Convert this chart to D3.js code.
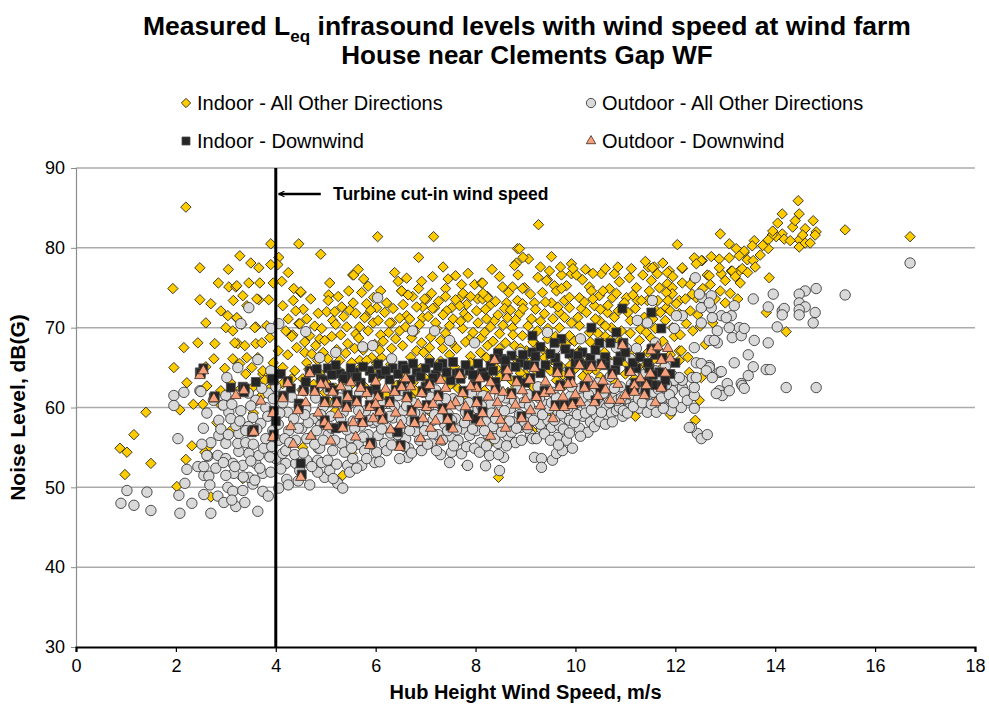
<!DOCTYPE html>
<html>
<head>
<meta charset="utf-8">
<script src="https://cdn.jsdelivr.net/npm/d3@7/dist/d3.min.js"></script>
<style>
  body { margin: 0; background: #fff; }
  svg text { font-family: "Liberation Sans", Arial, sans-serif; fill: #000; }
</style>
</head>
<body>
<svg id="chart" width="989" height="715"></svg>
<script>
// [wind speed m/s, level dB(G)]
var indoorOther = [
  [0.88,54.9],[1.02,54.4],[0.98,51.6],[1.16,56.6],[1.4,59.4],[1.5,53],[1.94,74.9],[2.2,85.1],[2.16,67.5],[1.96,65],
  [2.22,63.1],[2.08,59.7],[2.54,60.4],[2.82,58.1],[2.32,55.2],[2.66,55.1],[2.2,53.5],[2.58,54.4],[3.34,51.1],[2.76,66.1],
  [2.44,68.1],[2.78,68],[2.62,62.7],[2.98,64.9],[3.4,64.2],[3.74,64.2],[3.24,68],[3.6,68],[2.02,50.1],[2.48,77.5],
  [2.48,73.5],[2.7,73],[3.28,79],[3.66,77.5],[3.9,80.5],[3.46,75.6],[3.68,75.6],[3.06,75.1],[3.2,75.1],[3.34,74],
  [3.66,73.5],[3.86,73.5],[4.06,78.8],[4.04,77.9],[3.9,77.9],[3.04,71.5],[3.22,71.2],[3,70],[3.32,70.4],[3.6,70.1],
  [4.14,72.75],[4.36,74.9],[4.5,74.4],[4.46,70.5],[4.34,69.1],[4.46,80.5],[3.22,75.25],[3.42,72.75],[3.62,73.6],[3.22,71.25],
  [3.58,70],[3.82,70.25],[3.18,68.1],[3.38,67.75],[3.72,68.1],[3.88,68.75],[3.14,66.1],[3.42,66.25],[3.64,66.25],[3.28,65.5],
  [3.52,65],[3.74,64.6],[3.78,63.4],[3.88,62.4],[3.14,69.6],[2.7,48.8],
  [6.04,81.4],[7.16,81.4],[4.9,79.2],[6.86,78.8],[8.84,79.9],[8.82,78.1],[4.5,74.5],[5.54,76.6],[5.76,76.1],[5.08,75.6],
  [5.06,74.1],[7.14,76.4],[6.52,74.6],[6.74,73.9],[6.86,74.9],[7.02,73.6],[7.4,74.9],[7.4,73.9],[7.72,75.4],[7.98,75.4],
  [8.12,75.6],[8.54,75.1],[8.74,75.1],[7.7,73.8],[5.96,73.8],[5.82,73],[5.02,72],[5.18,72],[5.32,72.6],[5.14,70.9],
  [5.42,70.1],[5.68,70.1],[5.8,71.4],[6.02,72.5],[6.18,71.9],[6.32,70.6],[6.62,71.5],[6.94,71.25],[7.18,72.5],[7.52,72.5],
  [7.82,72.9],[8.04,73.6],[8.24,73.9],[8.62,73.1],[8.84,73.4],[4.68,69],[4.88,68.6],[5.78,71.25],[6.68,71.1],[7.14,72.4],
  [6.94,72.6],[7.42,72.1],[7.68,72.75],[7.78,71.75],[8.02,72.1],[8.14,73.6],[6.28,70.6],[6.48,69.6],[6.72,68.75],[6.92,68.1],
  [7.22,69.9],[7.48,70.25],[7.74,69.9],[7.88,68.6],[8.12,68.75],[7.52,68.1],[7.34,67.4],[7.08,67.5],[6.82,67.1],[6.54,67.75],
  [6.32,67.4],[6.12,66.25],[5.92,66.25],[5.68,65.9],[5.44,68],[5.22,67.25],[4.98,68.4],[4.8,67.75],[4.48,70.5],[4.32,68.9],
  [4.42,67.5],[4.58,66.9],[4.24,66.6],[4.14,65],[4.38,64.6],[4.62,65.6],[4.84,65.9],[5.04,66.1],[5.28,65.9],[5.52,65.6],
  [5.82,65.9],[6.02,65.5],[5.68,64.9],[4.54,63.6],[4.32,63.6],[4.14,63],[5.56,76.6],[6.52,74.6],[5.6,69.2],[6.1,69.1],
  [9.26,82.9],[12.04,80.4],[12.9,81.75],[13.08,80.5],[13.22,79.9],[13.38,79.4],[9.06,78.6],[9.52,78.9],[9.92,78],[8.88,79.9],
  [12.38,78.75],[12.54,78.4],[12.72,78.9],[12.88,78.6],[13.08,78.75],[13.28,77.1],[13.12,77.1],[12.92,76.75],[12.64,76.6],[12.52,78.4],
  [12.14,77.4],[11.88,77.1],[11.58,77.6],[11.46,77.6],[11.64,76.75],[11.84,75.5],[11.94,75],[12.14,75.6],[12.38,76.1],[10.78,76.75],
  [11.12,77.4],[10.52,76.75],[9.92,76.75],[9.72,76.6],[8.98,75],[9.44,76],[9.58,75.25],[9.82,75.25],[10.14,76],[10.28,75.1],
  [10.68,74.9],[10.88,75.75],[11.08,76.25],[11.22,75],[11.52,75.9],[11.68,75],[11.94,74.25],[12.08,73.4],[12.42,73.75],[11.54,77.5],
  [11.84,76.9],[12.14,77.5],[12.42,78],[12.68,76.5],[12.88,77.5],[13.14,77.1],[10.02,76.6],[9.42,75.9],[8.94,74.9],[9.34,74.4],
  [9.62,74.6],[10.32,74.6],[11.82,74.4],[12.34,74.2],[11.44,73.4],[11.24,73.4],[11.02,73.75],[10.74,73.75],[10.48,74],[10.08,73.75],
  [9.78,73.4],[9.52,73.1],[9.18,73.1],[8.94,73],[8.58,72.4],[8.28,72.75],[8.24,73.75],[8.14,75.6],[12.02,73],[11.82,72.5],
  [11.62,72.1],[12.08,71.75],[11.94,70],[12.22,70.5],[12.08,67.1],[11.64,67.4],[10.64,71.9],[10.38,72.75],[10.12,72.4],[9.88,72.5],
  [9.68,71.9],[9.38,71.75],[9.12,71.1],[8.88,71.75],[8.64,71.25],[8.38,70.9],[8.22,71.1],[8.18,69.4],[8.48,69.25],[8.74,70],
  [8.94,69],[9.24,69.6],[9.44,68.6],[9.68,70],[9.88,69],[10.08,70.25],[10.28,69.4],[10.48,70.9],[10.72,70],[10.88,68.4],
  [10.42,67.75],[10.08,67.1],[9.74,67.75],[9.52,66.9],[9.24,67.75],[9.02,67.1],[8.78,67.75],[8.48,67.4],[8.24,67.75],[8.22,66.25],
  [8.84,65.9],[9.38,66.25],[9.94,66.25],[10.28,65.9],[10.62,66.25],[11.02,65.5],[11.22,66.1],[12.08,65.9],[12.28,64.4],[12.52,63.75],
  [11.3,69.8],[11.1,70.9],[11.5,68.8],[10.6,68.9],[12.5,70.2],[12.3,72.1],
  [14.46,85.9],[14.14,84.25],[14.48,84.25],[14.76,83.4],[14.6,82.4],[14.82,82],[14.8,81.6],[15.4,82.25],[16.7,81.4],[14.14,81.75],
  [14.18,81.1],[14.02,81.4],[13.94,81.6],[13.86,81],[13.86,79.9],[13.58,80.9],[13.54,80.25],[14.48,81],[14.48,80.1],[14.6,80.6],
  [13.38,79.6],[13.28,79],[13.44,78.5],[13.56,78.4],[13.34,77.4],[13.88,76.25],[13.82,71.9],[14.22,69.5],
  [9.12,57.1],[8.28,55.5],[8.56,53.75],[8.46,51.25],[7.82,52.75],[5.34,51.5],[5.52,54.25],[4.54,55],[9.14,57.1],[12.12,67.1],
  [12.48,60.9],[4.6,63.4],[5,63.2],[5.5,62.8],[6,63.5],[6.5,63],[7,63.6],[7.5,62.9],[8,63.4],[8.5,63.9],
  [9,64.2],[9.5,64.6],[10,64.9],[10.5,63.8],[11,64.2],[4.8,61.2],[5.8,61.8],[6.8,62.1],[7.8,61.6],[8.8,62.6],
  [9.8,62.9],[10.8,63.1],[11.5,63.6],[5.2,59.6],[6.3,58.9],[7.1,59.4],[8.6,58.4],[9.4,59.1],[10.5,61.3],[11.2,58.9],
  [11.9,59.1],[12.4,58.4],[6.6,65.1],[7.3,65.8],[7.9,66.4],[8.6,65.6],[9.7,65.2],[10.4,64.7],[11.4,65.3],[5.3,64.4],
  [4.55,72.3],[4.62,71.1],[4.7,73.6],[4.78,70.2],[4.85,71.8],[4.92,69.9],[4.58,68.2],[4.72,66.7],[4.95,66.9],[4.66,64.8],
  [4.88,64.3],[4.52,62.2],[4.76,62.9],[4.98,61.9],[4.6,60.4],
  [5.05,73.4],[5.12,68.9],[5.2,70.4],[5.25,73.9],[5.3,69.1],[5.36,71.4],[5.4,66.8],[5.46,74.6],[5.48,72.2],[5.1,64.6],
  [5.35,63.4],[5.2,62.4],[5.45,61.4],[5.08,60.7],
  [5.55,73.1],[5.6,71.8],[5.66,68.7],[5.72,74.4],[5.75,67.2],[5.85,69.6],[5.9,72.2],[5.95,70.6],[5.98,67.9],[5.62,63.6],
  [5.78,62.6],[5.92,64.6],[5.58,67.4],[5.85,75.2],[5.65,77.3],
  [6.05,70.9],[6.1,74.6],[6.15,68.3],[6.22,73.1],[6.26,69.4],[6.35,72.4],[6.4,68.6],[6.45,75.8],[6.48,71.2],[6.12,64.2],
  [6.3,65.4],[6.42,62.8],[6.2,61.6],[6.38,76.9],[6.08,67.2],
  [6.55,72.9],[6.6,70.1],[6.65,74.1],[6.7,66.3],[6.78,69.5],[6.82,72.6],[6.88,70.4],[6.96,66.9],[6.98,73.6],[6.58,64.4],
  [6.75,63.1],[6.9,64.9],[6.62,76.2],[6.92,75.8],[6.7,61.3],
  [7.05,71.4],[7.1,68.8],[7.12,74.3],[7.2,70.6],[7.26,73.3],[7.3,68.4],[7.35,71.6],[7.4,69.3],[7.45,76.1],[7.48,66.6],
  [7.08,66.1],[7.22,64.5],[7.4,63.9],[7.15,62.3],[7.35,77.6],
  [7.55,71.1],[7.6,73.5],[7.62,67.4],[7.7,70.8],[7.75,74.3],[7.8,68.2],[7.85,71.3],[7.9,73.9],[7.95,69.4],[7.58,65.1],
  [7.72,63.8],[7.9,65.6],[7.65,62.4],[7.85,76.8],[7.6,76.5],
  [8.05,70.6],[8.1,66.9],[8.15,74.3],[8.2,72.3],[8.3,70.1],[8.35,68.3],[8.4,73.3],[8.45,71.6],[8.5,66.2],[8.08,64.4],
  [8.28,63.6],[8.42,64.9],[8.18,62.1],[8.33,77.3],[8.48,76.4],
  [8.55,70.3],[8.6,68.1],[8.66,74.4],[8.7,72.2],[8.75,69.1],[8.8,71],[8.85,76.6],[8.9,67.4],[8.95,72.4],[8.58,64.6],
  [8.72,63.4],[8.9,64.3],[8.65,61.9],[8.78,77.8],[8.95,78.8],
  [9.05,70.2],[9.1,74.2],[9.15,68.2],[9.2,72.3],[9.25,76.3],[9.3,70.8],[9.35,67.3],[9.4,73.2],[9.45,69.9],[9.08,65.6],
  [9.22,64.6],[9.42,65.4],[9.15,62.6],[9.3,77.6],[9.48,77.1],
  [9.55,71.1],[9.6,68.9],[9.65,72.6],[9.72,74.9],[9.78,71.3],[9.82,67.9],[9.88,73.8],[9.92,70.6],[9.98,68.3],[9.58,65.8],
  [9.75,64.1],[9.9,65.3],[9.62,63.4],[9.7,77.6],[9.95,77.4],
  [10.05,71.3],[10.1,68.6],[10.18,73.2],[10.22,71.9],[10.3,68.2],[10.35,73.6],[10.4,71.1],[10.45,69.3],[10.5,72.3],[10.08,66.3],
  [10.25,64.6],[10.42,66.6],[10.15,63.9],[10.35,76.8],[10.2,77.3],
  [10.55,74.6],[10.6,70.2],[10.65,72.8],[10.7,68.4],[10.78,71.3],[10.82,74.3],[10.86,72.1],[10.92,69.6],[10.98,73.1],[10.58,66.9],
  [10.75,65.6],[10.95,66.4],[10.68,63.9],[10.85,77.6],[10.6,77.4],
  [11.05,71.9],[11.1,69.3],[11.15,74.1],[11.2,72.4],[11.28,68.4],[11.32,73.4],[11.38,71.3],[11.42,69.4],[11.48,74.6],[11.08,66.8],
  [11.25,65.1],[11.45,66.9],[11.18,63.6],[11.35,76.6],[11.4,78.3],
  [11.55,71.1],[11.6,69.9],[11.65,73.4],[11.7,71.9],[11.75,68.3],[11.8,70.9],[11.85,73.4],[11.9,72.1],[11.98,68.9],[11.58,66.1],
  [11.72,64.9],[11.9,66.6],[11.62,63.6],[11.75,78.1],[11.95,76.4],
  [12.1,69.1],[12.2,73.6],[12.3,75.4],[12.45,71.6],[12.55,74.9],[12.6,72.9],[12.7,75.4],[12.8,73.6],[12.9,74.6],[13,75.9],
  [13.1,74.3],[13.2,76.4],[13.3,75.6],[13.45,76.9],[13.6,77.6],[13.7,79.1],[13.75,80.3],[13.95,82.1],[14.05,83.1],[14.3,80.9],
  [14.35,82.6],[14.4,83.4],[14.55,81.6],[14.7,80.6],[12.35,69.6],[12.6,67.9],[12.25,66.3],[12.75,70.6],[13,73.1],[13.25,73.6],
  [3.1,63.1],[3.3,62.4],[3.55,62.6],[3.7,61.4],[3.95,65.6],[4.05,67.1],[4.2,69.6],[4.25,71.1],[4.4,72.1],[4.12,75.8],
  [4.25,76.9],[4.35,73.4],[3.15,73.4],[2.9,72.1],[2.85,75.6],[3.05,77.3],[3.5,78.1],[3.95,75.6],[2.6,70.6],[2.9,62.1],
  [2.6,65.1],[2.35,60.4],[2.9,60.3],[3.1,57.1],[3.55,59.3]
];

var outdoorOther = [
  [0.9,48],[1.02,49.6],[1.16,47.75],[1.42,49.4],[1.5,47.1],[1.96,61.5],[1.96,60.25],[2.16,61.9],[2.48,62.1],[2.04,56.1],
  [2.86,56.5],[2.64,53.9],[2.84,54],[2.44,52.6],[2.56,51.5],[2.22,52.25],[2.18,50.5],[2.06,49],[2.32,48],[2.08,46.75],
  [2.7,46.75],[2.56,49.1],[2.84,48.9],[2.96,48.1],[3.2,47.6],[3.64,47],[3.04,50],[3.14,49.5],[3.34,49.6],[3.54,50.4],
  [3.74,49.5],[4.06,49.9],[4.22,51],[3.46,51.25],[3.74,51.75],[3.16,51.75],[3,51.5],[2.66,51.4],[2.56,52.6],[2.62,54],
  [3,53.6],[3.14,53],[3.34,52.75],[3.6,53],[4,53.6],[4.2,53],[4.14,54.25],[3.66,54],[3.46,54.25],[3.26,54.5],
  [3,55.5],[3.24,55.5],[3.4,55.6],[3.26,56.75],[3.2,57.75],[3.06,59.4],[3.3,59.6],[2.86,58.4],[3.24,65],[3.02,63.75],
  [3,61.5],[2.5,62],[3.64,66],[3.9,64.6],[3.6,60.9],[3.8,60],[3.54,58.75],[3.7,58],[3.94,57.1],[3.76,54.9],
  [4.06,55.9],[4.2,54.6],[4.26,57.1],[4.4,55.9],[4.24,59.4],[4.36,58.6],[4.14,60.6],[4.4,53],[3.9,51.9],[3.46,72.5],
  [4.06,70.5],[3.9,69.9],[6.04,73.75],[5.74,67.6],[5.94,67.75],[6.74,69.6],[7.18,69.6],[7.48,68.4],[7.98,68.1],[6.32,66.1],
  [4.88,66.25],[3.1,58.6],[3.45,57.6],[3.5,60.2],[2.95,60.3],[3.85,61.8],[4,62.6],
  [4.52,57.4],[4.6,59.8],[4.7,56.2],[4.75,58.6],[4.8,61.2],[4.85,54.9],[4.9,57.8],[4.95,60.1],[4.62,56.1],[4.84,53.4],
  [4.62,53.4],[4.88,54.9],[4.98,51.25],[4.84,51.9],[5.08,52.1],[5.24,50.5],[5.34,49.9],[4.56,62.1],
  [5.05,56.6],[5.1,58.9],[5.14,54.6],[5.2,60.6],[5.25,57.5],[5.32,55.5],[5.35,59.4],[5.44,52.75],[5.48,51.9],[5.5,56.2],
  [5.55,58.3],[5.54,53.6],[5.6,60.9],[5.65,55.4],[5.72,52.75],[5.7,57.7],[5.78,54.6],[5.8,59.6],[5.85,56.6],[5.92,61.2],
  [5.95,58.1],[5.98,53.1],[5.42,62.3],[5.05,62.2],
  [6.02,54.4],[6.05,56.5],[6.1,59.2],[6.18,55.5],[6.2,57.6],[6.25,60.5],[6.3,56.8],[6.35,58.7],[6.42,55.5],[6.45,61.5],
  [6.5,57.4],[6.55,59.6],[6.64,53.75],[6.6,56.1],[6.7,58.3],[6.75,60.6],[6.8,57],[6.88,55.9],[6.9,59.1],[6.95,61.9],
  [6.66,54.9],
  [7.02,57.6],[7.05,59.9],[7.12,55.5],[7.15,58.4],[7.2,62.2],[7.25,56.6],[7.3,60.4],[7.38,57.9],[7.45,59.2],[7.52,54.4],
  [7.5,56.4],[7.55,61.1],[7.6,58.6],[7.65,55.9],[7.7,60.2],[7.75,57.3],[7.84,52.75],[7.8,59.4],[7.88,56.5],[7.92,61.8],
  [7.95,58.1],[7.3,54.1],
  [8.02,57.1],[8.05,59.8],[8.1,55.6],[8.15,61.5],[8.2,58.2],[8.28,54],[8.25,56.6],[8.3,60.4],[8.35,57.6],[8.42,62.3],
  [8.48,52.1],[8.45,55.5],[8.5,59.1],[8.56,53.75],[8.55,57.9],[8.6,61.2],[8.65,56.4],[8.7,59.9],[8.75,58.2],[8.8,55.6],
  [8.85,62.4],[8.9,57.5],[8.95,60.6],[8.2,52.7],
  [9.02,58.9],[9.05,61.6],[9.1,56.6],[9.14,56.1],[9.18,53.75],[9.32,53.6],[9.32,52.5],[9.32,57.4],[9.2,59.5],[9.25,62.6],
  [9.3,57.9],[9.4,60.4],[9.45,58.4],[9.52,57.5],[9.54,53.4],[9.55,61.9],[9.62,54.25],[9.64,56.25],[9.68,57.75],[9.6,59.3],
  [9.7,62.8],[9.74,54.6],[9.78,60.8],[9.82,55.9],[9.88,58.4],[9.9,61.4],[9.94,54.9],[9.95,59.6],
  [10.02,60.6],[10.08,57.4],[10.1,62.4],[10.15,58.9],[10.22,60.2],[10.3,58.2],[10.35,61.8],[10.42,59],[10.45,63.1],[10.5,60.4],
  [10.58,58.6],[10.62,60],[10.65,62.3],[10.72,59.3],[10.75,61.2],[10.82,59.6],[10.88,60],[10.9,62.6],[10.95,58.9],[10.25,56.9],
  [11.02,61],[11.08,59.9],[11.12,62.9],[11.2,60.6],[11.28,59.9],[11.3,63.3],[11.38,61.5],[11.48,60],[11.5,62.6],[11.58,60.9],
  [11.68,59.9],[11.7,63.6],[11.78,61.2],[11.85,62.6],[11.92,60.9],[11.92,59.6],[11.94,62.1],[11.94,64],[11.98,63.4],[12.12,60],
  [12.14,62.5],[12.14,63.4],[9.44,69.4],
  [12.4,76.25],[12.54,73.75],[12.72,74],[12.72,72.5],[12.52,72.5],[12.92,71.5],[13.12,71.5],[13.18,72.75],[13.28,70],[13.08,70],
  [12.84,69.6],[12.52,70.6],[12.14,71.5],[11.54,73.4],[11.24,70.9],[12.48,74.2],[12.68,73.1],[12.74,71.25],[13.02,71.25],[12.68,68.4],
  [12.84,68.1],[12.42,65.6],[12.68,65.25],[13.04,63],[12.88,62.1],[12.94,61.5],[12.34,63.75],[12.08,63.75],[12.18,61.9],[12.24,60.9],
  [12.44,56.75],[12.32,57.5],[12.52,56.1],[12.64,56.6],[12.28,57.5],[12.38,59.9],[12.38,61.5],[12.38,62.5],[12.42,63.75],[12.52,65.5],
  [12.82,61.75],[12.88,64.4],[12.68,65],[12.78,68.4],[13.14,68.75],[13.32,69],[13.18,65.6],[13.32,63],[13.08,62.1],[12.62,64.6],
  [12.92,64.5],[12.74,63.75],[12.38,67.5],[12.02,71.5],[11.98,69.9],[11.44,70.6],[11.22,67.4],[11.02,67.4],[10.82,67.5],
  [16.7,78.1],[15.4,74.1],[14.82,74.9],[14.6,74.6],[14.48,74.2],[14.48,73.1],[14.6,72.6],[14.48,72.25],[14.48,71.6],[14.8,71.9],
  [14.76,70.6],[13.96,74.2],[13.56,73.6],[13.86,72.6],[14.14,72.1],[14.18,72.4],[14.14,71.6],[14.04,70.1],[13.38,69.9],[14.22,62.5],
  [14.82,62.5],[13.58,68.4],[13.86,68.1],[13.46,66.6],[13.56,65.1],[13.82,64.75],[13.9,64.75],[13.46,64],[13.34,62.75],[13.38,62.4],
  [2.55,57.4],[2.62,59.3],[2.7,55.6],[2.75,60.9],[2.8,52.4],[2.9,57.3],[2.95,53.1],[2.68,50.3],[2.52,55.4],
  [3.05,56.6],[3.12,60.4],[3.18,52.6],[3.28,58.3],[3.35,51.3],[3.4,57.1],[3.45,61.8],[3.12,48.4],[3.38,48.1],[3.5,53.3],
  [3.55,55.4],[3.62,57.3],[3.68,52.4],[3.72,62.4],[3.8,56.1],[3.84,58.9],[3.88,53.8],[3.95,61.1],[3.58,50.9],[3.85,48.9],
  [3.92,55.1],[4.05,57.9],[4.1,52.3],[4.18,56.1],[4.28,55.6],[4.32,61.3],[4.38,54.1],[4.45,57.4],[4.48,52.1],[4.25,50.3],
  [4.45,50.8],[4.08,59.3],
  [4.55,54.3],[4.65,58.1],[4.72,52.6],[4.78,55.4],[4.9,59.1],[4.95,55.9],[4.58,59.1],[4.68,50.3],[4.92,53.1],[4.82,57.1],
  [5.04,53.4],[5.12,57.4],[5.18,55.9],[5.22,52.9],[5.3,58.6],[5.38,54.4],[5.42,57.2],[5.28,61.2],[5.15,51.1],[5.46,60.4],
  [5.52,54.9],[5.58,57.4],[5.62,52.4],[5.66,59.6],[5.75,56.3],[5.82,53.6],[5.88,58.4],[5.92,55.4],[5.96,60.3],[5.68,61.8],
  [6.04,58.3],[6.08,53.2],[6.14,60.4],[6.22,54.6],[6.28,58.9],[6.32,55.3],[6.38,60.2],[6.44,56.6],[6.48,53.6],[6.12,57.3],
  [6.52,58.4],[6.58,55.1],[6.62,60.2],[6.68,57.1],[6.72,54.3],[6.78,59.3],[6.85,58.1],[6.92,54.6],[6.98,57.1],[6.55,62.1],
  [7.04,55.4],[7.1,61.3],[7.14,56.7],[7.18,59.1],[7.22,54.6],[7.28,58.6],[7.34,55.9],[7.4,61.1],[7.44,57.1],[7.48,53.1],
  [7.52,58.4],[7.56,55.2],[7.62,57.2],[7.66,60.9],[7.72,54.2],[7.78,58.1],[7.82,55.1],[7.86,60.6],[7.94,57.3],[7.98,54.9],
  [8.04,58.6],[8.08,54.4],[8.12,60.2],[8.18,57.1],[8.22,55.2],[8.32,59.3],[8.38,56.1],[8.4,58.6],[8.46,54.1],[8.48,61.3],
  [8.52,56.9],[8.58,59.6],[8.62,55.2],[8.68,58.3],[8.72,56.9],[8.78,60.8],[8.82,57.4],[8.88,59.1],[8.92,55.9],[8.98,58.2],
  [9.04,57.4],[9.08,60.2],[9.16,58.4],[9.22,56.1],[9.28,61.2],[9.34,59.1],[9.38,56.7],[9.42,62.1],[9.48,59.9],[9.5,55.9],
  [9.52,60.6],[9.58,58.4],[9.62,61.2],[9.66,55.3],[9.72,59.2],[9.76,57.3],[9.84,59.9],[9.88,56.8],[9.92,62.6],[9.98,58.1],
  [10.04,59.1],[10.1,56.4],[10.14,61.2],[10.2,59.3],[10.26,61.6],[10.32,59.7],[10.38,57.6],[10.44,61.1],[10.48,58.3],[10.28,63.3],
  [10.52,59.4],[10.56,61.8],[10.6,57.9],[10.68,60.6],[10.74,58.2],[10.78,62.4],[10.84,60.9],[10.92,61.2],[10.96,59.6],[10.7,63.9],
  [11.04,59.3],[11.1,61.6],[11.16,60.1],[11.22,62.3],[11.26,61.1],[11.34,60.6],[11.4,62.9],[11.44,59.4],[11.46,61.6],[11.36,64.1],
  [11.52,60.4],[11.56,61.9],[11.62,59.4],[11.66,62.3],[11.72,61.2],[11.76,59.9],[11.82,62.9],[11.88,61.6],[11.96,60.6],[11.6,64.6],
  [10.4,66.3],[10.7,65.4],[11.1,66.1],[11.6,68.1],[11.8,65.1],[9.6,67.4],[10.1,68.6],[8.9,66.9],[5.2,66.9],[4.6,69.5],
  [3.3,70.5]
];

var indoorDownwind = [
  [2.48,64.4],[2.76,61.25],[3.36,61.9],[3.34,62.6],[3.54,57.1],[3.52,56.9],[3.96,63.4],[3.92,63.6],[4.16,61.5],[4.46,60.5],
  [4.5,53],[4.68,64.4],[5.04,64.9],[5.28,64.25],[5.58,64.4],[5.88,64.6],[6.34,64.9],[6.54,65.25],[6.82,64.4],[7.08,65.6],
  [7.34,65.5],[7.62,64.25],[7.88,64.6],[8.14,64.4],[5.08,62.5],[6.44,56.9],[4.98,58],[10.94,72.4],[11.52,71.9],[11.72,69.9],
  [10.32,70],[10.82,69.4],[9.14,69],[9.72,68.6],[9.58,68.1],[9.14,66.9],[10.14,66.9],[10.48,68.1],[9.88,66.75],[8.72,66.5],
  [8.52,66.1],[11.22,64.9],[11.48,64.9],[11.68,64.4],[11.08,64.6],
  [4.3,62.4],[4.9,63.6],[5.4,63.9],[5.7,63.1],[6.1,64.2],[6.7,63.5],[7.2,64.1],[7.5,63.4],[8,63.9],[8.3,65.2],
  [8.9,65.6],[9.4,65.3],[9.6,66.2],[10,65.6],[10.3,66.2],[10.6,65.3],[10.8,64.7],[11.9,64.2],[11.6,62.8],[11.4,63.2],
  [9.9,63.9],[9.3,64.3],[8.6,64.8],[3.1,62.5],[2.55,64.9],[3.6,63.2],[4.1,64.2],[6,62.3],[7,62.6],[8.4,63.2],
  [9,63.1],[10.5,62.4],[11.1,62.2],[11.6,66.6],[10.9,66.4],[12,65.6],[4,58.3],[5.2,57.4],[7.5,57.7],[8,58.6],
  [2.5,64.3],[2.78,61.4],[3.38,62.4],[3.56,57.2],[3.96,56.6],[4.24,63.3],[4.14,61.4],[4.46,59.9],[3.96,59.6],[4.52,51.6],
  [4.7,64.6],[4.56,62.2],[4.98,60.8],[5.16,62.2],[4.98,58.4],[5.44,61.6],[5.34,57.7],[5.84,62.1],[5.74,58.3],[6.06,61.6],
  [6.14,58.7],[6.4,62.2],[6.64,61.4],[6.78,58.3],[6.94,62.1],[7.26,61.6],[7.44,58.7],[7.76,62.1],[8.04,60.8],[7.86,59.1],
  [8.4,62.4],[8.72,61.8],[8.92,58.9],[9.38,62.1],[9.6,60.3],[9.96,60.6],[9.7,62.8],[10.2,62.7],[10.4,60.9],[11.2,63.1],
  [11.44,63.1],[11.74,62.7],[11.4,61.8],[8.84,63.4],[9.1,63.7],[5.9,55.6],[6.5,55.3],[11.54,67.4],[10.96,68.1],[11.74,66.2],
  [4.6,63.2],[4.82,64.8],[4.95,63.4],[5.12,64.1],[5.2,65.3],[5.35,63.6],[5.5,64.9],[5.62,63.8],[5.75,65.1],[5.95,63.7],
  [6.05,65.4],[6.2,64.6],[6.28,63.5],[6.45,64.2],[6.6,64.8],[6.75,65.5],[6.9,63.9],[7,64.9],[7.15,63.7],[7.25,65.1],
  [7.42,64.4],[7.55,65.7],[7.7,63.6],[7.8,65.3],[7.95,64.1],[8.05,65.5],[8.2,63.9],[8.35,64.6],[8.45,66.8],[8.6,65.9],
  [8.8,65.1],[8.95,66.6],[9.05,65.3],[9.2,66.4],[9.3,67.6],[9.5,66.7],[9.65,65.1],[9.8,67.3],[10.05,66.5],[10.2,65.3],
  [10.4,67.2],[10.6,66.3],[10.7,68.1],[10.85,65.8],[11,66.9],[11.15,65.6],[11.3,66.3],[11.45,65.6],[11.55,64.1],[11.8,63.4],
  [5.22,60.8],[5.62,60.9],[5.88,60.3],[6.28,60.8],[6.52,62.8],[6.72,59.7],[7.02,60.3],[7.08,63],[7.34,59.9],[7.68,64.3],
  [8.02,62.7],[8.14,59.5],[8.38,66.1],[8.62,64],[9.18,65.2],[9.22,61.5],[9.78,60.3],[9.64,64.5],[9.88,64.5],[10.08,65.5],
  [10.32,65.3],[10.52,65.5],[10.18,62.7],[10.74,64.3],[10.94,67.9],[11.52,67.3],[11.18,62.5],[4.78,62.2],[5.42,60.2],[6.08,59.7]
];

var outdoorDownwind = [
  [2.48,64],[2.76,61.1],[3.36,62.1],[3.56,56.9],[3.94,56.25],[4.24,63],[4.14,61.1],[4.44,59.6],[3.94,59.25],[4.5,51.25],
  [4.68,64.25],[4.54,61.9],[4.78,61.9],[4.98,60.5],[5.14,61.9],[5.22,60.5],[4.98,58.1],[5.44,61.25],[5.42,59.9],[5.34,57.4],
  [5.62,60.6],[5.68,59],[5.82,61.75],[5.88,60],[5.74,58],[6.04,61.25],[6.08,59.4],[6.14,58.4],[6.28,60.5],[6.38,61.9],
  [6.52,62.5],[6.62,61.1],[6.72,59.4],[6.78,58],[6.92,61.75],[7.02,60],[7.08,62.75],[7.24,61.25],[7.34,59.6],[7.44,58.4],
  [7.68,64],[7.74,61.75],[8.02,62.4],[8.02,60.5],[8.08,63.6],[8.14,59.25],[7.84,58.75],[8.38,65.9],[8.62,63.75],[8.38,62.1],
  [8.72,61.5],[8.44,60.6],[8.42,59.25],[8.92,58.6],[9.18,64.9],[9.38,61.75],[9.22,61.25],[9.58,60],[9.78,60],[9.94,60.25],
  [9.64,64.25],[9.88,64.25],[9.68,62.5],[10.08,65.25],[10.32,65],[10.52,65.25],[9.94,63],[10.18,62.4],[10.38,62.75],[10.38,60.6],
  [10.74,64],[10.94,67.75],[11.52,67.1],[11.72,65.9],[11.18,62.75],[11.42,62.75],[11.72,62.4],[11.38,61.5],[11.18,61.9],[8.82,63.1],
  [8.94,62.1],[9.08,63.4],[8.64,64.6],[5.88,55.25],[6.48,55],[5,62.8],[5.5,63.1],[6,63.2],[6.6,63.6],[7.3,63.4],
  [4.3,57.6],[4.7,56.4],[6.3,57.2],[7.1,57.4],[7.6,60.6],[8.6,57.4],[9.1,59.6],[9.4,63.2],[10,61.6],[10.6,62.2],
  [10.9,60.9],[11.1,64.4],[11.9,66.1],[11.6,60.6],[3.2,61.5],[3.7,60.8],[5.1,55.8],[2.55,64.6],
  [4.6,60.6],[4.85,59.3],[4.9,62.9],[5.05,57.6],[5.25,59.1],[5.3,62.6],[5.55,58.1],[5.7,62.4],[5.95,58.6],[6,60.4],
  [6.2,62.3],[6.4,59.3],[6.5,57.8],[6.7,62.6],[6.85,60.4],[6.95,58.6],[7.15,60.4],[7.2,58.3],[7.4,62.4],[7.5,60.2],
  [7.55,57.3],[7.8,60.1],[7.9,62.6],[8.1,58.1],[8.25,61.3],[8.3,63.1],[8.5,58.4],[8.55,61.9],[8.8,60.3],[9,61],
  [9.05,57.6],[9.3,60.2],[9.5,62.1],[9.55,58.6],[9.75,61.3],[9.85,62.9],[10.1,60.6],[10.25,63.6],[10.45,61.4],[10.55,63.3],
  [10.7,60.9],[10.85,62.9],[11,61.5],[11.3,63.6],[11.5,64.2],[11.8,64.3],[11.85,67.4],[11.65,67.6],[4.35,55.4],[5.6,56.3],
  [6.9,56.1],[7.3,55.8],[8.3,56.4]
];

var xTicks = [0, 2, 4, 6, 8, 10, 12, 14, 16, 18];
var yTicks = [30, 40, 50, 60, 70, 80, 90];
var cutInSpeed = 4;
var legendLabels = ["Indoor - All Other Directions", "Outdoor - All Other Directions",
                    "Indoor - Downwind", "Outdoor - Downwind"];

var svg = d3.select("#chart");
var plotLeft = 76, plotRight = 975, plotTop = 168, plotBottom = 647;

var x = d3.scaleLinear().domain([0, 18]).range([plotLeft, plotRight]);
var y = d3.scaleLinear().domain([30, 90]).range([plotBottom, plotTop]);

// marker styles, same order as the legend
var styles = [
  { sym: d3.symbolSquare, size: 54, rot: 45, fill: "#FFCC00", stroke: "#1a1a1a" },
  { sym: d3.symbolCircle, size: 85, rot: 0, fill: "#D9D9D9", stroke: "#262626" },
  { sym: d3.symbolSquare, size: 80, rot: 0, fill: "#262626", stroke: "#4a4a4a" },
  { sym: d3.symbolTriangle, size: 48, rot: 0, fill: "#F6A07C", stroke: "#3a2a22" }
];
var series = [indoorOther, outdoorOther, indoorDownwind, outdoorDownwind];

// title
var title = svg.append("text")
    .attr("x", 527).attr("y", 35)
    .attr("text-anchor", "middle")
    .style("font-size", "26.5px").style("font-weight", "bold");
title.append("tspan").text("Measured L");
title.append("tspan").attr("dy", 7).style("font-size", "17px").text("eq");
title.append("tspan").attr("dy", -7).text(" infrasound levels with wind speed at wind farm");
svg.append("text")
    .attr("x", 527).attr("y", 64)
    .attr("text-anchor", "middle")
    .style("font-size", "26px").style("font-weight", "bold")
    .text("House near Clements Gap WF");

// legend
var legendPos = [[186, 103], [591, 103], [186, 141], [591, 141]];
legendLabels.forEach(function(label, i) {
  var st = styles[i];
  svg.append("path")
      .attr("d", d3.symbol(st.sym, st.size * 0.8)())
      .attr("transform", "translate(" + legendPos[i][0] + "," + legendPos[i][1] + ") rotate(" + st.rot + ")")
      .attr("fill", st.fill).attr("stroke", st.stroke).attr("stroke-width", 0.8);
  svg.append("text")
      .attr("x", legendPos[i][0] + 11).attr("y", legendPos[i][1] + 7)
      .style("font-size", "20px")
      .text(label);
});

// gridlines
svg.append("g")
  .selectAll("line")
  .data(yTicks.filter(function(d) { return d > 30; }))
  .enter().append("line")
    .attr("x1", plotLeft).attr("x2", plotRight)
    .attr("y1", function(d) { return y(d); })
    .attr("y2", function(d) { return y(d); })
    .attr("stroke", "#ABABAB").attr("stroke-width", 1.5);

// y axis (grey)
var yAxis = svg.append("g")
    .attr("transform", "translate(" + plotLeft + ",0)")
    .call(d3.axisLeft(y).tickValues(yTicks).tickSize(5).tickPadding(6));
yAxis.select(".domain").attr("stroke", "#8c8c8c").attr("stroke-width", 1.2);
yAxis.selectAll(".tick line").attr("stroke", "#8c8c8c");
yAxis.selectAll("text").style("font-size", "18px").style("font-family", "Liberation Sans, Arial, sans-serif");

// points
series.forEach(function(data, i) {
  var st = styles[i];
  svg.append("g")
    .selectAll("path")
    .data(data)
    .enter().append("path")
      .attr("d", d3.symbol(st.sym, st.size)())
      .attr("transform", function(d) {
        return "translate(" + x(d[0]) + "," + y(d[1]) + ") rotate(" + st.rot + ")";
      })
      .attr("fill", st.fill)
      .attr("stroke", st.stroke)
      .attr("stroke-width", 0.8);
});

// x axis (black)
var xAxis = svg.append("g")
    .attr("transform", "translate(0," + plotBottom + ")")
    .call(d3.axisBottom(x).tickValues(xTicks).tickSize(5).tickPadding(7));
xAxis.select(".domain").attr("stroke", "#000").attr("stroke-width", 2.2);
xAxis.selectAll(".tick line").attr("stroke", "#000").attr("stroke-width", 1.2);
xAxis.selectAll("text").style("font-size", "18px").style("font-family", "Liberation Sans, Arial, sans-serif");

// cut-in wind speed marker
svg.append("line")
    .attr("x1", x(cutInSpeed)).attr("x2", x(cutInSpeed))
    .attr("y1", plotTop).attr("y2", plotBottom)
    .attr("stroke", "#000").attr("stroke-width", 3);

svg.append("defs").append("marker")
    .attr("id", "arrow")
    .attr("viewBox", "0 0 10 10")
    .attr("refX", 1).attr("refY", 5)
    .attr("markerWidth", 7).attr("markerHeight", 7)
    .attr("markerUnits", "userSpaceOnUse")
    .attr("orient", "auto")
  .append("path")
    .attr("d", "M9,1 L1,5 L9,9")
    .attr("fill", "none").attr("stroke", "#000").attr("stroke-width", 1.8);

svg.append("line")
    .attr("x1", x(cutInSpeed) + 3).attr("x2", x(cutInSpeed) + 45)
    .attr("y1", 194).attr("y2", 194)
    .attr("stroke", "#000").attr("stroke-width", 2.5)
    .attr("marker-start", "url(#arrow)");

svg.append("text")
    .attr("x", 333).attr("y", 200)
    .style("font-size", "17.5px").style("font-weight", "bold")
    .text("Turbine cut-in wind speed");

// axis titles
svg.append("text")
    .attr("x", (plotLeft + plotRight) / 2).attr("y", 699)
    .attr("text-anchor", "middle")
    .style("font-size", "20px").style("font-weight", "bold")
    .text("Hub Height Wind Speed, m/s");

svg.append("text")
    .attr("transform", "translate(25," + (plotTop + plotBottom) / 2 + ") rotate(-90)")
    .attr("text-anchor", "middle")
    .style("font-size", "21px").style("font-weight", "bold")
    .text("Noise Level, dB(G)");
</script>
</body>
</html>
